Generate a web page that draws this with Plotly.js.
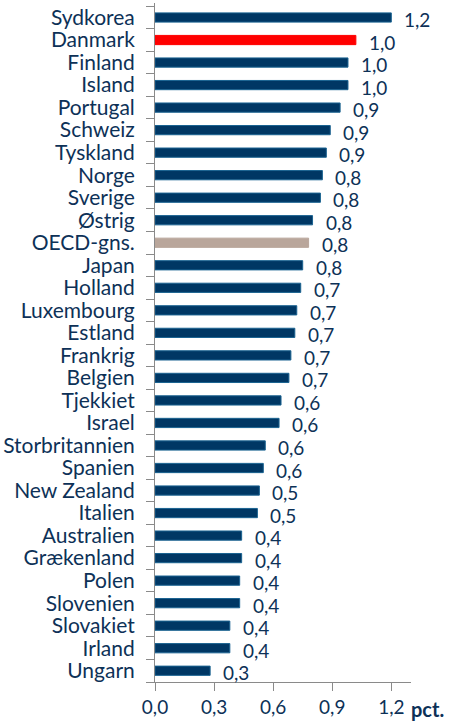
<!DOCTYPE html>
<html>
<head>
<meta charset="utf-8">
<script src="https://cdn.plot.ly/plotly-3.0.1.min.js"></script>
<style>
html,body{margin:0;padding:0;background:#fff;}
#chart{width:449px;height:723px;}
</style>
</head>
<body>
<div id="chart"></div>
<script>
var countries = ["Sydkorea","Danmark","Finland","Island","Portugal","Schweiz","Tyskland","Norge","Sverige","Østrig","OECD-gns.","Japan","Holland","Luxembourg","Estland","Frankrig","Belgien","Tjekkiet","Israel","Storbritannien","Spanien","New Zealand","Italien","Australien","Grækenland","Polen","Slovenien","Slovakiet","Irland","Ungarn"];
var values = [1.20,1.02,0.98,0.98,0.94,0.89,0.87,0.85,0.84,0.80,0.78,0.75,0.74,0.72,0.71,0.69,0.68,0.64,0.63,0.56,0.55,0.53,0.52,0.44,0.44,0.43,0.43,0.38,0.38,0.28];
var xTicks = [0,0.3,0.6,0.9,1.2];
var xTickLabels = ["0,0","0,3","0,6","0,9","1,2"];

var NAVY = "#003764", RED = "#ff0000", OECD = "#b9a69b", TXT = "#0d3157";
var FS = 21, FN = 19;
var colors = countries.map(function(c){ return c==="Danmark" ? RED : (c==="OECD-gns." ? OECD : NAVY); });
var lineColors = countries.map(function(c){ return c==="Danmark" ? RED : (c==="OECD-gns." ? OECD : "#1a6391"); });

var trace = {
  type:"bar", orientation:"h",
  x: values, y: countries,
  marker:{color:colors, line:{color:lineColors, width:1}},
  hoverinfo:"none"
};

var annotations = countries.map(function(c,i){
  return {x: values[i], y: c, xref:"x", yref:"y", text: values[i].toFixed(1).replace(".",","),
    showarrow:false, xanchor:"left", yanchor:"middle", xshift:12, yshift:-2, borderpad:0,
    font:{family:"Lato, sans-serif", size:FN, color:TXT}};
});
annotations.push({x:1.2, y:0, xref:"x", yref:"paper", text:"<b>pct.</b>", showarrow:false,
  xanchor:"left", yanchor:"top", xshift:19, yshift:-14, borderpad:0,
  font:{family:"Lato, sans-serif", size:20, color:TXT}});

var layout = {
  width:449, height:723,
  margin:{l:155, r:38, t:3, b:41},
  paper_bgcolor:"#fff", plot_bgcolor:"#fff",
  separators:",.",
  showlegend:false,
  bargap:0.59,
  font:{family:"Lato, sans-serif", size:FS, color:TXT},
  xaxis:{range:[0,1.3], tickmode:"array", tickvals:xTicks, ticktext:xTickLabels, showgrid:false, zeroline:false,
    showline:true, linecolor:"#8a8a8a", linewidth:1, ticks:"outside", ticklen:8, tickcolor:"#8a8a8a",
    tickfont:{family:"Lato, sans-serif", size:FN, color:TXT}, fixedrange:true},
  yaxis:{type:"category", autorange:"reversed", tickmode:"array", tickvals:countries, ticktext:countries,
    showgrid:false, zeroline:false,
    showline:true, linecolor:"#8a8a8a", linewidth:1, ticks:"outside", ticklen:8, tickcolor:"#8a8a8a",
    tickson:"boundaries", ticklabelstandoff:15,
    tickfont:{family:"Lato, sans-serif", size:FS, color:TXT}, fixedrange:true},
  annotations: annotations
};

Plotly.newPlot("chart", [trace], layout, {staticPlot:true, displayModeBar:false});
</script>
</body>
</html>
